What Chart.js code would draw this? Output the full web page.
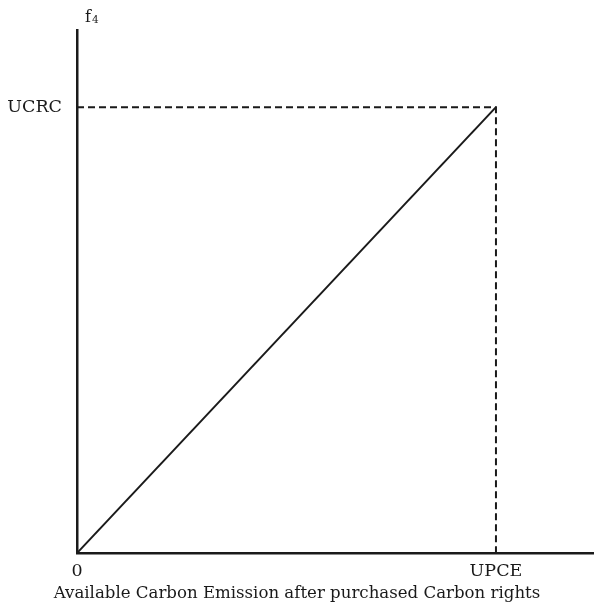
<!DOCTYPE html>
<html>
<head>
<meta charset="utf-8">
<script src="https://cdn.jsdelivr.net/npm/chart.js@4"></script>
<style>
  html, body { margin: 0; padding: 0; background: #fff; }
  #wrap { width: 594px; height: 605px; position: relative; }
</style>
</head>
<body>
<div id="wrap"><canvas id="chart"></canvas></div>
<script>
// Tick positions and their labels
const xTickValues = [0, 100];
const xTickLabels = ['0', 'UPCE'];
const yTickValues = [100];
const yTickLabels = ['UCRC'];

// Solid line from origin to (UPCE, UCRC)
const lineX = [0, 100];
const lineY = [0, 100];

// Dashed guide lines
const guideX = [0, 100, 100];
const guideY = [100, 100, 0];

const xAxisTitle = 'Available Carbon Emission after purchased Carbon rights';
const yAxisName = 'f';
const yAxisSub = '4';

const FONT = "'DejaVu Serif', 'Liberation Serif', serif";
const INK = '#1a1a1a';

const toPoints = (xs, ys) => xs.map((x, i) => ({ x: x, y: ys[i] }));

// Draws the small "f4" name at the top of the y axis
const axisNamePlugin = {
    id: 'axisName',
    afterDraw(chart) {
        const ctx = chart.ctx;
        const left = chart.chartArea.left;
        ctx.save();
        ctx.fillStyle = INK;
        ctx.textBaseline = 'alphabetic';
        ctx.font = '16px ' + FONT;
        ctx.fillText(yAxisName, left + 8, 22);
        const w = ctx.measureText(yAxisName).width;
        ctx.font = '10.5px ' + FONT;
        ctx.fillText(yAxisSub, left + 8 + w + 1, 23);
        ctx.restore();
    }
};

new Chart(document.getElementById('chart'), {
    type: 'scatter',
    data: {
        datasets: [
            {
                data: toPoints(lineX, lineY),
                showLine: true,
                borderColor: INK,
                borderWidth: 2,
                pointRadius: 0,
                clip: false
            },
            {
                data: toPoints(guideX, guideY),
                showLine: true,
                borderColor: INK,
                borderWidth: 2,
                borderDash: [7, 4],
                pointRadius: 0,
                clip: false
            }
        ]
    },
    options: {
        responsive: true,
        maintainAspectRatio: false,
        animation: false,
        layout: { padding: { top: 30, left: 0, right: 0, bottom: 0 } },
        plugins: {
            legend: { display: false },
            tooltip: { enabled: false },
            title: {
                display: true,
                position: 'bottom',
                text: xAxisTitle,
                color: INK,
                font: { family: FONT, size: 16.6, weight: 'normal' },
                padding: { top: 0, bottom: 1 }
            }
        },
        scales: {
            x: {
                type: 'linear',
                min: 0,
                max: 123.4,
                grid: { display: false, drawTicks: false },
                border: { display: true, color: INK, width: 2.5 },
                afterBuildTicks: function(scale) {
                    scale.ticks = xTickValues.map(v => ({ value: v }));
                },
                afterFit: function(scale) {
                    scale.height = 31;
                },
                ticks: {
                    autoSkip: false,
                    maxRotation: 0,
                    padding: 8,
                    color: INK,
                    font: { family: FONT, size: 17.5 },
                    callback: function(value) {
                        return xTickLabels[xTickValues.indexOf(value)];
                    }
                }
            },
            y: {
                type: 'linear',
                min: 0,
                max: 117.3,
                grid: { display: false, drawTicks: false },
                border: { display: true, color: INK, width: 2.5 },
                afterBuildTicks: function(scale) {
                    scale.ticks = yTickValues.map(v => ({ value: v }));
                },
                afterFit: function(scale) {
                    scale.width = 77;
                },
                ticks: {
                    autoSkip: false,
                    padding: 15,
                    color: INK,
                    font: { family: FONT, size: 17.5 },
                    callback: function(value) {
                        return yTickLabels[yTickValues.indexOf(value)];
                    }
                }
            }
        }
    },
    plugins: [axisNamePlugin]
});
</script>
</body>
</html>
